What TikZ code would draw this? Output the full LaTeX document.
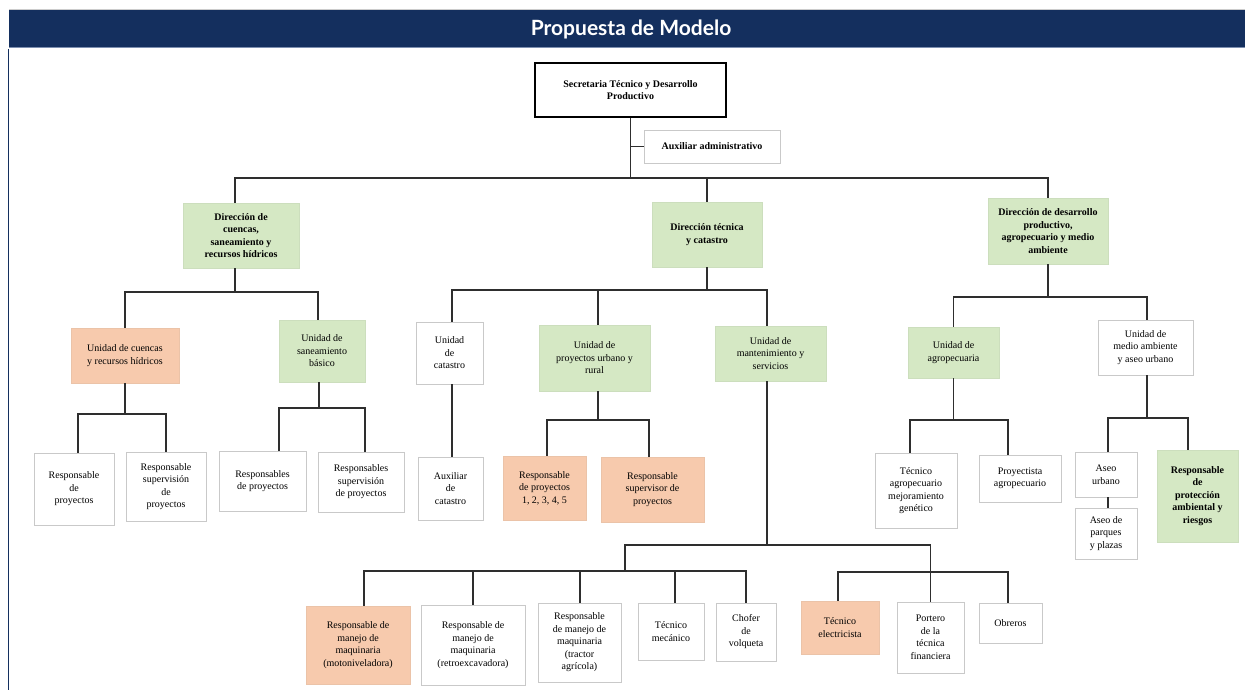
\documentclass[tikz,border=0pt]{standalone}
\usepackage{fontspec}
\setmainfont{Liberation Serif}
\newfontfamily\headfont{Lato}
\definecolor{navy}{HTML}{142F5E}
\definecolor{navyedge}{HTML}{7D8FB0}
\definecolor{boxgray}{HTML}{C9C9C9}
\definecolor{leafgreen}{HTML}{D5E8C4}
\definecolor{peach}{HTML}{F7CAAD}
\definecolor{linkgray}{HTML}{2E2E2E}
\begin{document}
\begin{tikzpicture}[x=1pt,y=-1pt,
  sz/.style 2 args={minimum width=#1pt, minimum height=#2pt},
  box/.style={draw=boxgray, line width=0.9pt, fill=white, align=center,
    inner sep=1pt, font=\fontsize{10}{12.5}\selectfont},
  gbox/.style={box, fill=leafgreen, draw=leafgreen!90!gray},
  obox/.style={box, fill=peach, draw=peach!90!gray},
  strong/.style={font=\bfseries\fontsize{10}{12.5}\selectfont},
  link/.style={draw=linkgray, line width=1.8pt},
]
\useasboundingbox (0,0) rectangle (1245,690);

% title band
\fill[navy] (9,10) rectangle (1245,47);
\draw[navyedge, line width=1pt] (9,47.5) -- (1245,47.5);
\draw[gray!40, line width=0.6pt] (9,9.5) -- (1245,9.5);
\draw[navy, line width=1.3pt] (8.5,49) -- (8.5,690);
\node[text=white, font=\headfont\bfseries\fontsize{21}{24}\selectfont] (title) at (631,29.5) {Propuesta de Modelo};

% top level
\node[box, strong, draw=black, line width=1.5pt, sz={191}{54}] (top) at (630.5,90) {Secretaria Técnico y Desarrollo\\Productivo};
\node[box, strong, sz={136}{33}] (aux) at (712,146.5) {Auxiliar administrativo};

% direcciones
\node[gbox, strong, sz={116}{65}] (d1) at (241,235.5) {Dirección de\\cuencas,\\saneamiento y\\recursos hídricos};
\node[gbox, strong, sz={110}{65}] (d2) at (707,234.5) {Dirección técnica\\y catastro};
\node[gbox, strong, sz={120}{66}] (d3) at (1048,231) {Dirección de desarrollo\\productivo,\\agropecuario y medio\\ambiente};

% unidades
\node[obox, sz={108}{55}] (u1) at (125,355.5) {Unidad de cuencas\\y recursos hídricos};
\node[gbox, sz={86}{62}] (u2) at (322,351) {Unidad de\\saneamiento\\básico};
\node[box, sz={67}{62}] (u3) at (449.5,353) {Unidad\\de\\catastro};
\node[gbox, sz={111}{66}] (u4) at (594.5,358) {Unidad de\\proyectos urbano y\\rural};
\node[gbox, sz={111}{55}] (u5) at (770.5,353.5) {Unidad de\\mantenimiento y\\servicios};
\node[gbox, sz={91}{51}] (u6) at (953.5,352.5) {Unidad de\\agropecuaria};
\node[box, sz={95}{55}] (u7) at (1145.5,347.5) {Unidad de\\medio ambiente\\y aseo urbano};

% third level
\node[box, sz={80}{72}] (r1) at (74,489) {Responsable\\de\\proyectos};
\node[box, sz={80}{69}] (r2) at (166,486.5) {Responsable\\supervisión\\de\\proyectos};
\node[box, sz={87}{60}] (r3) at (262.5,481) {Responsables\\de proyectos};
\node[box, sz={86}{60}] (r4) at (361,482) {Responsables\\supervisión\\de proyectos};
\node[box, sz={65}{63}] (c1) at (450.5,488.5) {Auxiliar\\de\\catastro};
\node[obox, sz={83}{64}] (p1) at (544.5,488) {Responsable\\de proyectos\\1, 2, 3, 4, 5};
\node[obox, sz={103}{65}] (p2) at (652.5,489.5) {Responsable\\supervisor de\\proyectos};
\node[box, sz={82}{75}] (a1) at (916,490.5) {Técnico\\agropecuario\\mejoramiento\\genético};
\node[box, sz={82}{47}] (a2) at (1020,478.5) {Proyectista\\agropecuario};
\node[box, sz={62}{45}] (m1) at (1106,474.5) {Aseo\\urbano};
\node[box, sz={62}{51}] (m2) at (1106,533.5) {Aseo de\\parques\\y plazas};
\node[gbox, strong, sz={81}{92}] (m3) at (1197.5,496) {Responsable\\de\\protección\\ambiental y\\riesgos};

% maintenance staff
\node[obox, sz={104}{78}] (b1) at (358,645) {Responsable de\\manejo de\\maquinaria\\(motoniveladora)};
\node[box, sz={104}{80}] (b2) at (473,645) {Responsable de\\manejo de\\maquinaria\\(retroexcavadora)};
\node[box, sz={83}{79}] (b3) at (579.5,642.5) {Responsable\\de manejo de\\maquinaria\\(tractor\\agrícola)};
\node[box, sz={66}{57}] (b4) at (671,631.5) {Técnico\\mecánico};
\node[box, sz={60}{58}] (b5) at (746,632) {Chofer\\de\\volqueta};
\node[obox, sz={78}{53}] (b6) at (840,627.5) {Técnico\\electricista};
\node[box, sz={67}{71}] (b7) at (930.5,637.5) {Portero\\de la\\técnica\\financiera};
\node[box, sz={63}{40}] (b8) at (1010.5,623) {Obreros};

% junction points of the connector bars
\coordinate (bus0) at (630.5,178);
\coordinate (bus1) at (235,292);
\coordinate (bus2) at (125,414);
\coordinate (bus3) at (319,408);
\coordinate (bus4) at (707,290);
\coordinate (bus5) at (598,420);
\coordinate (bus6) at (767,545);
\coordinate (bus7) at (625,571);
\coordinate (bus8) at (930.5,572);
\coordinate (bus9) at (1048,297);
\coordinate (bus10) at (953.5,420);
\coordinate (bus11) at (1147,418);

% connectors
\draw[link] (top.south) -- (bus0);
\draw[link] (aux.west) -- (aux.west -| top.south);
\draw[link] ([xshift=-6pt]d1.north) |- (bus0) -| (d3.north);
\draw[link] (d2.north) -- (d2.north |- bus0);

\draw[link] ([xshift=-6pt]d1.south) -- (bus1);
\draw[link] (u1.north) |- (bus1) -| ([xshift=-4pt]u2.north);
\draw[link] (u1.south) -- (bus2);
\draw[link] ([xshift=4pt]r1.north) |- (bus2) -| (r2.north);
\draw[link] ([xshift=-3pt]u2.south) -- (bus3);
\draw[link] ([xshift=16.5pt]r3.north) |- (bus3) -| ([xshift=4pt]r4.north);

\draw[link] (d2.south) -- (bus4);
\draw[link] ([xshift=2.5pt]u3.north) |- (bus4) -| ([xshift=-3.5pt]u5.north);
\draw[link] ([xshift=3.5pt]u4.north) -- ([xshift=3.5pt]u4.north |- bus4);
\draw[link] ([xshift=2.5pt]u3.south) -- ([xshift=2.5pt]u3.south |- c1.north);
\draw[link] ([xshift=3.5pt]u4.south) -- (bus5);
\draw[link] ([xshift=2.5pt]p1.north) |- (bus5) -| ([xshift=-3.5pt]p2.north);

\draw[link] ([xshift=-3.5pt]u5.south) -- (bus6);
\draw[link] (bus7) |- (bus6) -| (b7.north);
\draw[link] ([xshift=6pt]b1.north) |- (bus7) -| (b5.north);
\draw[link] (b2.north) -- (b2.north |- bus7);
\draw[link] ([xshift=0.5pt]b3.north) -- ([xshift=0.5pt]b3.north |- bus7);
\draw[link] ([xshift=4pt]b4.north) -- ([xshift=4pt]b4.north |- bus7);
\draw[link] ([xshift=-2pt]b6.north) |- (bus8) -| ([xshift=-2.5pt]b8.north);

\draw[link] (d3.south) -- (bus9);
\draw[link] (u6.north) |- (bus9) -| ([xshift=1.5pt]u7.north);
\draw[link] (u6.south) -- (bus10);
\draw[link] ([xshift=-6pt]a1.north) |- (bus10) -| ([xshift=-12pt]a2.north);
\draw[link] ([xshift=1.5pt]u7.south) -- (bus11);
\draw[link] ([xshift=2pt]m1.north) |- (bus11) -| ([xshift=-9.5pt]m3.north);
\draw[link] ([xshift=2pt]m1.south) -- ([xshift=2pt]m2.north);
\end{tikzpicture}
\end{document}
